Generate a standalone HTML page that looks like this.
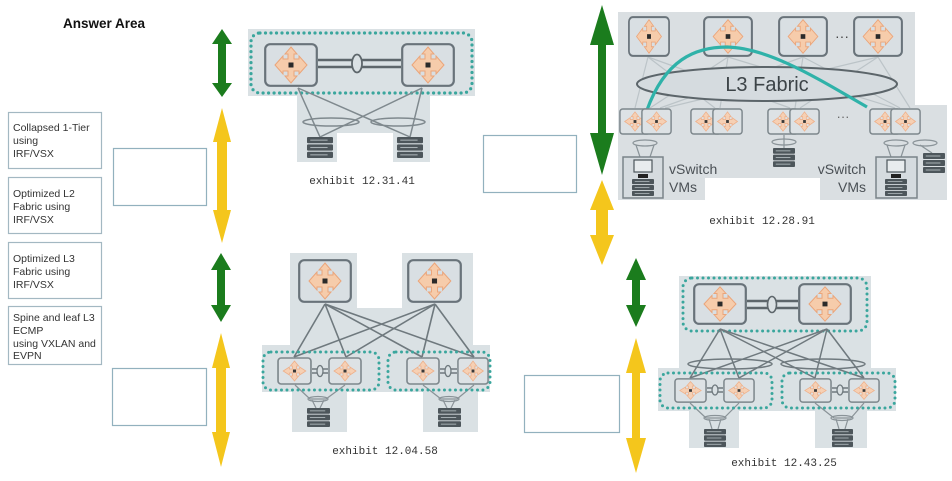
<!DOCTYPE html>
<html><head><meta charset="utf-8"><style>
html,body{margin:0;padding:0;background:#fff;}
svg{display:block;}
</style></head><body>
<svg width="952" height="481" viewBox="0 0 952 481" xmlns="http://www.w3.org/2000/svg">
<defs>
<symbol id="rt" viewBox="0 0 54 44" preserveAspectRatio="none">
<rect x="1.2" y="1.2" width="51.6" height="41.6" rx="5" fill="#d9dfe3" stroke="#69737a" stroke-width="2.2"/>
<polygon points="27,4 33,11 30,11 30,16 35,16 35,13 43,22 35,31 35,28 30,28 30,33 33,33 27,40 21,33 24,33 24,28 19,28 19,31 11,22 19,13 19,16 24,16 24,11 21,11" fill="#f6ccab" stroke="#eba57a" stroke-width="1"/>
<rect x="24.5" y="19.5" width="5" height="5" fill="#2a2a2a"/>
</symbol>
<symbol id="lf" viewBox="0 0 34 28" preserveAspectRatio="none">
<rect x="1" y="1" width="32" height="26" rx="3" fill="#dde2e5" stroke="#7d878c" stroke-width="1.6"/>
<polygon points="17,4 21,9 19,9 19,12 22,12 22,10 28,14 22,18 22,16 19,16 19,19 21,19 17,24 13,19 15,19 15,16 12,16 12,18 6,14 12,10 12,12 15,12 15,9 13,9" fill="#f6d0b4" stroke="#eeb08a" stroke-width="0.8"/>
<rect x="15.5" y="12.5" width="3" height="3" fill="#3a3a3a"/>
</symbol>
<symbol id="sv" viewBox="0 0 24 20" preserveAspectRatio="none">
<rect x="0" y="0" width="24" height="6" rx="1" fill="#4d565b"/>
<rect x="0" y="7" width="24" height="6" rx="1" fill="#4d565b"/>
<rect x="0" y="14" width="24" height="6" rx="1" fill="#4d565b"/>
<rect x="3" y="2.5" width="16" height="1" fill="#a9b2b6"/>
<rect x="3" y="9.5" width="16" height="1" fill="#a9b2b6"/>
<rect x="3" y="16.5" width="16" height="1" fill="#a9b2b6"/>
</symbol>
</defs>

<!-- Answer Area -->
<text x="63" y="28" font-family="Liberation Sans, sans-serif" font-weight="bold" font-size="13.5" fill="#111">Answer Area</text>

<!-- left option boxes -->
<g fill="#fff" stroke="#a3b8c2" stroke-width="1.2">
<rect x="8.5" y="112.5" width="93" height="56"/>
<rect x="8.5" y="177.5" width="93" height="56"/>
<rect x="8.5" y="242.5" width="93" height="56"/>
<rect x="8.5" y="306.5" width="93" height="58"/>
<rect x="113.5" y="148.5" width="93" height="57" stroke="#92b1be"/>
<rect x="112.5" y="368.5" width="94" height="57" stroke="#92b1be"/>
<rect x="483.5" y="135.5" width="93" height="57" stroke="#92b1be"/>
<rect x="524.5" y="375.5" width="95" height="57" stroke="#92b1be"/>
</g>
<g font-family="Liberation Sans, sans-serif" font-size="10.5" fill="#333">
<text x="13" y="131">Collapsed 1-Tier</text>
<text x="13" y="144">using</text>
<text x="13" y="157">IRF/VSX</text>
<text x="13" y="197">Optimized L2</text>
<text x="13" y="210">Fabric using</text>
<text x="13" y="223">IRF/VSX</text>
<text x="13" y="262">Optimized L3</text>
<text x="13" y="275">Fabric using</text>
<text x="13" y="288">IRF/VSX</text>
<text x="13" y="321">Spine and leaf L3</text>
<text x="13" y="334">ECMP</text>
<text x="13" y="347">using VXLAN and</text>
<text x="13" y="359">EVPN</text>
</g>

<!-- arrows -->
<g>
<polygon fill="#1b7c1d" points="222,29 232,44 226,44 226,83 232,83 222,97 212,83 218,83 218,44 212,44"/>
<polygon fill="#f4c61c" points="222,108 231,142 227,142 227,210 231,210 222,243 213,210 217,210 217,142 213,142"/>
<polygon fill="#1b7c1d" points="221,253 231,270 225,270 225,305 231,305 221,322 211,305 217,305 217,270 211,270"/>
<polygon fill="#f4c61c" points="221,333 230,368 226,368 226,432 230,432 221,467 212,432 216,432 216,368 212,368"/>
<polygon fill="#1b7c1d" points="602,5 614,45 606,45 606,133 614,133 602,175 590,133 598,133 598,45 590,45"/>
<polygon fill="#f4c61c" points="602,180 614,210 608,210 608,235 614,235 602,265 590,235 596,235 596,210 590,210"/>
<polygon fill="#1b7c1d" points="636,258 646,280 640,280 640,305 646,305 636,327 626,305 632,305 632,280 626,280"/>
<polygon fill="#f4c61c" points="636,338 646,373 640,373 640,438 646,438 636,473 626,438 632,438 632,373 626,373"/>
</g>

<!-- Exhibit 12.31.41 -->
<g>
<polygon fill="#dae1e4" points="248,29 475,29 475,96 430,96 430,162 393,162 393,133 337,133 337,162 297,162 297,96 248,96"/>
<rect x="251" y="33" width="221" height="60" rx="9" fill="none" stroke="#3aa69d" stroke-width="3.2" stroke-dasharray="0 5.5" stroke-linecap="round"/>
<g stroke="#7f898e" stroke-width="1.5" fill="none">
<line x1="298" y1="88" x2="320" y2="137"/>
<line x1="298" y1="88" x2="410" y2="137"/>
<line x1="422" y1="88" x2="410" y2="137"/>
<line x1="422" y1="88" x2="320" y2="137"/>
<ellipse cx="331" cy="122" rx="28" ry="4"/>
<ellipse cx="398" cy="122" rx="27" ry="4"/>
</g>
<line x1="318" y1="60" x2="401" y2="60" stroke="#5d666b" stroke-width="2.5"/>
<line x1="318" y1="67" x2="401" y2="67" stroke="#5d666b" stroke-width="2.5"/>
<ellipse cx="357" cy="63.5" rx="5" ry="9" fill="#dae1e4" stroke="#5d666b" stroke-width="1.8"/>
<use href="#rt" x="264" y="43" width="54" height="44"/>
<use href="#rt" x="401" y="43" width="54" height="44"/>
<use href="#sv" x="307" y="137" width="26" height="21"/>
<use href="#sv" x="397" y="137" width="26" height="21"/>
<text x="362" y="184" text-anchor="middle" font-family="Liberation Mono, monospace" font-size="11" fill="#333">exhibit 12.31.41</text>
</g>

<!-- Exhibit 12.04.58 -->
<g>
<polygon fill="#dae1e4" points="290,253 357,253 357,308 402,308 402,253 473,253 473,345 490,345 490,392 478,392 478,432 423,432 423,392 347,392 347,432 292,432 292,392 262,392 262,345 290,345"/>
<g stroke="#6f797e" stroke-width="1.6" fill="none">
<line x1="325" y1="304" x2="294" y2="357"/>
<line x1="325" y1="304" x2="346" y2="357"/>
<line x1="325" y1="304" x2="422" y2="357"/>
<line x1="325" y1="304" x2="474" y2="357"/>
<line x1="435" y1="304" x2="294" y2="357"/>
<line x1="435" y1="304" x2="346" y2="357"/>
<line x1="435" y1="304" x2="422" y2="357"/>
<line x1="435" y1="304" x2="474" y2="357"/>
</g>
<g stroke="#8a9398" stroke-width="1.2" fill="none">
<polyline points="295,385 310,399 326,399 345,385"/>
<ellipse cx="318" cy="399" rx="10" ry="2.5"/>
<line x1="312" y1="400" x2="316" y2="408"/><line x1="324" y1="400" x2="320" y2="408"/>
<polyline points="423,385 441,399 457,399 474,385"/>
<ellipse cx="449" cy="399" rx="10" ry="2.5"/>
<line x1="443" y1="400" x2="447" y2="408"/><line x1="455" y1="400" x2="451" y2="408"/>
</g>
<rect x="263" y="352" width="116" height="38" rx="8" fill="none" stroke="#3aa69d" stroke-width="3" stroke-dasharray="0 5.5" stroke-linecap="round"/>
<rect x="388" y="352" width="102" height="38" rx="8" fill="none" stroke="#3aa69d" stroke-width="3" stroke-dasharray="0 5.5" stroke-linecap="round"/>
<g stroke="#6f797e" stroke-width="1.5"><line x1="312" y1="369" x2="328" y2="369"/><line x1="312" y1="373" x2="328" y2="373"/><line x1="440" y1="369" x2="457" y2="369"/><line x1="440" y1="373" x2="457" y2="373"/></g>
<ellipse cx="320" cy="371" rx="3" ry="5.5" fill="#dae1e4" stroke="#6f797e" stroke-width="1.3"/>
<ellipse cx="448" cy="371" rx="3" ry="5.5" fill="#dae1e4" stroke="#6f797e" stroke-width="1.3"/>
<use href="#rt" x="298" y="259" width="54" height="44"/>
<use href="#rt" x="407" y="259" width="55" height="44"/>
<use href="#lf" x="277" y="357" width="35" height="28"/>
<use href="#lf" x="328" y="357" width="34" height="28"/>
<use href="#lf" x="406" y="357" width="34" height="28"/>
<use href="#lf" x="457" y="357" width="32" height="28"/>
<use href="#sv" x="307" y="408" width="23" height="19"/>
<use href="#sv" x="438" y="408" width="23" height="19"/>
<text x="385" y="454" text-anchor="middle" font-family="Liberation Mono, monospace" font-size="11" fill="#333">exhibit 12.04.58</text>
</g>

<!-- Exhibit 12.28.91 -->
<g>
<polygon fill="#dadfe2" points="618,12 915,12 915,105 947,105 947,200 820,200 820,178 705,178 705,200 618,200"/>
<g stroke="#bcc4c8" stroke-width="1.2" fill="none">
<line x1="648" y1="57" x2="635" y2="108"/><line x1="648" y1="57" x2="715" y2="108"/><line x1="648" y1="57" x2="790" y2="108"/>
<line x1="728" y1="57" x2="650" y2="108"/><line x1="728" y1="57" x2="720" y2="108"/><line x1="728" y1="57" x2="895" y2="108"/>
<line x1="803" y1="57" x2="660" y2="108"/><line x1="803" y1="57" x2="795" y2="108"/><line x1="803" y1="57" x2="900" y2="108"/>
<line x1="878" y1="57" x2="665" y2="108"/><line x1="878" y1="57" x2="800" y2="108"/><line x1="878" y1="57" x2="910" y2="108"/>
</g>
<use href="#rt" x="628" y="16" width="42" height="41"/>
<use href="#rt" x="703" y="16" width="50" height="41"/>
<use href="#rt" x="778" y="16" width="50" height="41"/>
<use href="#rt" x="853" y="16" width="50" height="41"/>
<text x="842" y="41" text-anchor="middle" font-family="Liberation Sans, sans-serif" font-size="14" fill="#444">···</text>
<ellipse cx="767" cy="84" rx="130" ry="17" fill="#d5dbdf" stroke="#5c656a" stroke-width="2"/>
<text x="767" y="91" text-anchor="middle" font-family="Liberation Sans, sans-serif" font-size="20" fill="#3c4347">L3 Fabric</text>
<path d="M647,110 C665,60 695,47 727,47 C770,48 820,80 867,107" fill="none" stroke="#2fb2a9" stroke-width="3.2"/>
<use href="#lf" x="619" y="108" width="32" height="27"/>
<use href="#lf" x="641" y="108" width="31" height="27"/>
<use href="#lf" x="690" y="108" width="32" height="27"/>
<use href="#lf" x="712" y="108" width="31" height="27"/>
<use href="#lf" x="767" y="108" width="32" height="27"/>
<use href="#lf" x="789" y="108" width="31" height="27"/>
<use href="#lf" x="869" y="108" width="32" height="27"/>
<use href="#lf" x="890" y="108" width="31" height="27"/>
<text x="843" y="121" text-anchor="middle" font-family="Liberation Sans, sans-serif" font-size="13" fill="#666">···</text>
<g stroke="#8a9398" stroke-width="1.2" fill="none">
<ellipse cx="645" cy="143" rx="12" ry="3"/>
<line x1="636" y1="145" x2="641" y2="160"/><line x1="654" y1="145" x2="649" y2="160"/>
<ellipse cx="784" cy="142" rx="12" ry="3"/>
<line x1="784" y1="135" x2="784" y2="148"/>
<ellipse cx="896" cy="143" rx="12" ry="3"/>
<line x1="887" y1="145" x2="892" y2="160"/><line x1="905" y1="145" x2="900" y2="160"/>
<ellipse cx="925" cy="143" rx="12" ry="3"/>
<line x1="920" y1="145" x2="932" y2="153"/>
</g>
<rect x="623" y="157" width="40" height="41" fill="#d5dbdf" stroke="#7a8489" stroke-width="1.5"/>
<rect x="634" y="160" width="18" height="12" fill="#e8ecee" stroke="#4d565b" stroke-width="1.2"/>
<rect x="638" y="174" width="10" height="4" fill="#222"/>
<use href="#sv" x="632" y="179" width="22" height="17"/>
<rect x="876" y="157" width="41" height="41" fill="#d5dbdf" stroke="#7a8489" stroke-width="1.5"/>
<rect x="887" y="160" width="18" height="12" fill="#e8ecee" stroke="#4d565b" stroke-width="1.2"/>
<rect x="891" y="174" width="10" height="4" fill="#222"/>
<use href="#sv" x="885" y="179" width="22" height="17"/>
<use href="#sv" x="773" y="148" width="22" height="19"/>
<use href="#sv" x="923" y="153" width="22" height="20"/>
<g font-family="Liberation Sans, sans-serif" font-size="14" fill="#4a5055">
<text x="669" y="174">vSwitch</text>
<text x="669" y="192">VMs</text>
<text x="866" y="174" text-anchor="end">vSwitch</text>
<text x="866" y="192" text-anchor="end">VMs</text>
</g>
<text x="762" y="224" text-anchor="middle" font-family="Liberation Mono, monospace" font-size="11" fill="#333">exhibit 12.28.91</text>
</g>

<!-- Exhibit 12.43.25 -->
<g>
<polygon fill="#dae1e4" points="679,276 871,276 871,368 896,368 896,411 867,411 867,448 815,448 815,411 739,411 739,448 689,448 689,411 658,411 658,368 679,368"/>
<rect x="683" y="278" width="184" height="53" rx="9" fill="none" stroke="#3aa69d" stroke-width="3" stroke-dasharray="0 5.5" stroke-linecap="round"/>
<g stroke="#6f797e" stroke-width="1.5" fill="none">
<line x1="720" y1="329" x2="690" y2="378"/>
<line x1="720" y1="329" x2="739" y2="378"/>
<line x1="720" y1="329" x2="815" y2="378"/>
<line x1="720" y1="329" x2="864" y2="378"/>
<line x1="827" y1="329" x2="690" y2="378"/>
<line x1="827" y1="329" x2="739" y2="378"/>
<line x1="827" y1="329" x2="815" y2="378"/>
<line x1="827" y1="329" x2="864" y2="378"/>
<ellipse cx="730" cy="364" rx="42" ry="5"/>
<ellipse cx="823" cy="364" rx="42" ry="5"/>
</g>
<g stroke="#8a9398" stroke-width="1.2" fill="none">
<polyline points="690,403 706,418 724,418 739,403"/>
<ellipse cx="715" cy="418" rx="11" ry="2.5"/>
<line x1="709" y1="419" x2="712" y2="429"/><line x1="721" y1="419" x2="718" y2="429"/>
<polyline points="815,403 834,418 851,418 864,403"/>
<ellipse cx="842" cy="418" rx="11" ry="2.5"/>
<line x1="836" y1="419" x2="839" y2="429"/><line x1="848" y1="419" x2="845" y2="429"/>
</g>
<line x1="747" y1="301" x2="798" y2="301" stroke="#5d666b" stroke-width="2.5"/>
<line x1="747" y1="308" x2="798" y2="308" stroke="#5d666b" stroke-width="2.5"/>
<ellipse cx="772" cy="304.5" rx="4.5" ry="8" fill="#dae1e4" stroke="#5d666b" stroke-width="1.6"/>
<rect x="660" y="373" width="112" height="35" rx="8" fill="none" stroke="#3aa69d" stroke-width="3" stroke-dasharray="0 5.5" stroke-linecap="round"/>
<rect x="782" y="373" width="113" height="35" rx="8" fill="none" stroke="#3aa69d" stroke-width="3" stroke-dasharray="0 5.5" stroke-linecap="round"/>
<g stroke="#6f797e" stroke-width="1.5"><line x1="707" y1="388" x2="723" y2="388"/><line x1="707" y1="392" x2="723" y2="392"/><line x1="832" y1="388" x2="848" y2="388"/><line x1="832" y1="392" x2="848" y2="392"/></g>
<ellipse cx="715" cy="390" rx="3" ry="5" fill="#dae1e4" stroke="#6f797e" stroke-width="1.3"/>
<ellipse cx="840" cy="390" rx="3" ry="5" fill="#dae1e4" stroke="#6f797e" stroke-width="1.3"/>
<use href="#rt" x="693" y="283" width="54" height="42"/>
<use href="#rt" x="798" y="283" width="54" height="42"/>
<use href="#lf" x="674" y="378" width="33" height="25"/>
<use href="#lf" x="723" y="378" width="32" height="25"/>
<use href="#lf" x="799" y="378" width="33" height="25"/>
<use href="#lf" x="848" y="378" width="32" height="25"/>
<use href="#sv" x="704" y="429" width="22" height="18"/>
<use href="#sv" x="832" y="429" width="21" height="18"/>
<text x="784" y="466" text-anchor="middle" font-family="Liberation Mono, monospace" font-size="11" fill="#333">exhibit 12.43.25</text>
</g>
</svg>
</body></html>
